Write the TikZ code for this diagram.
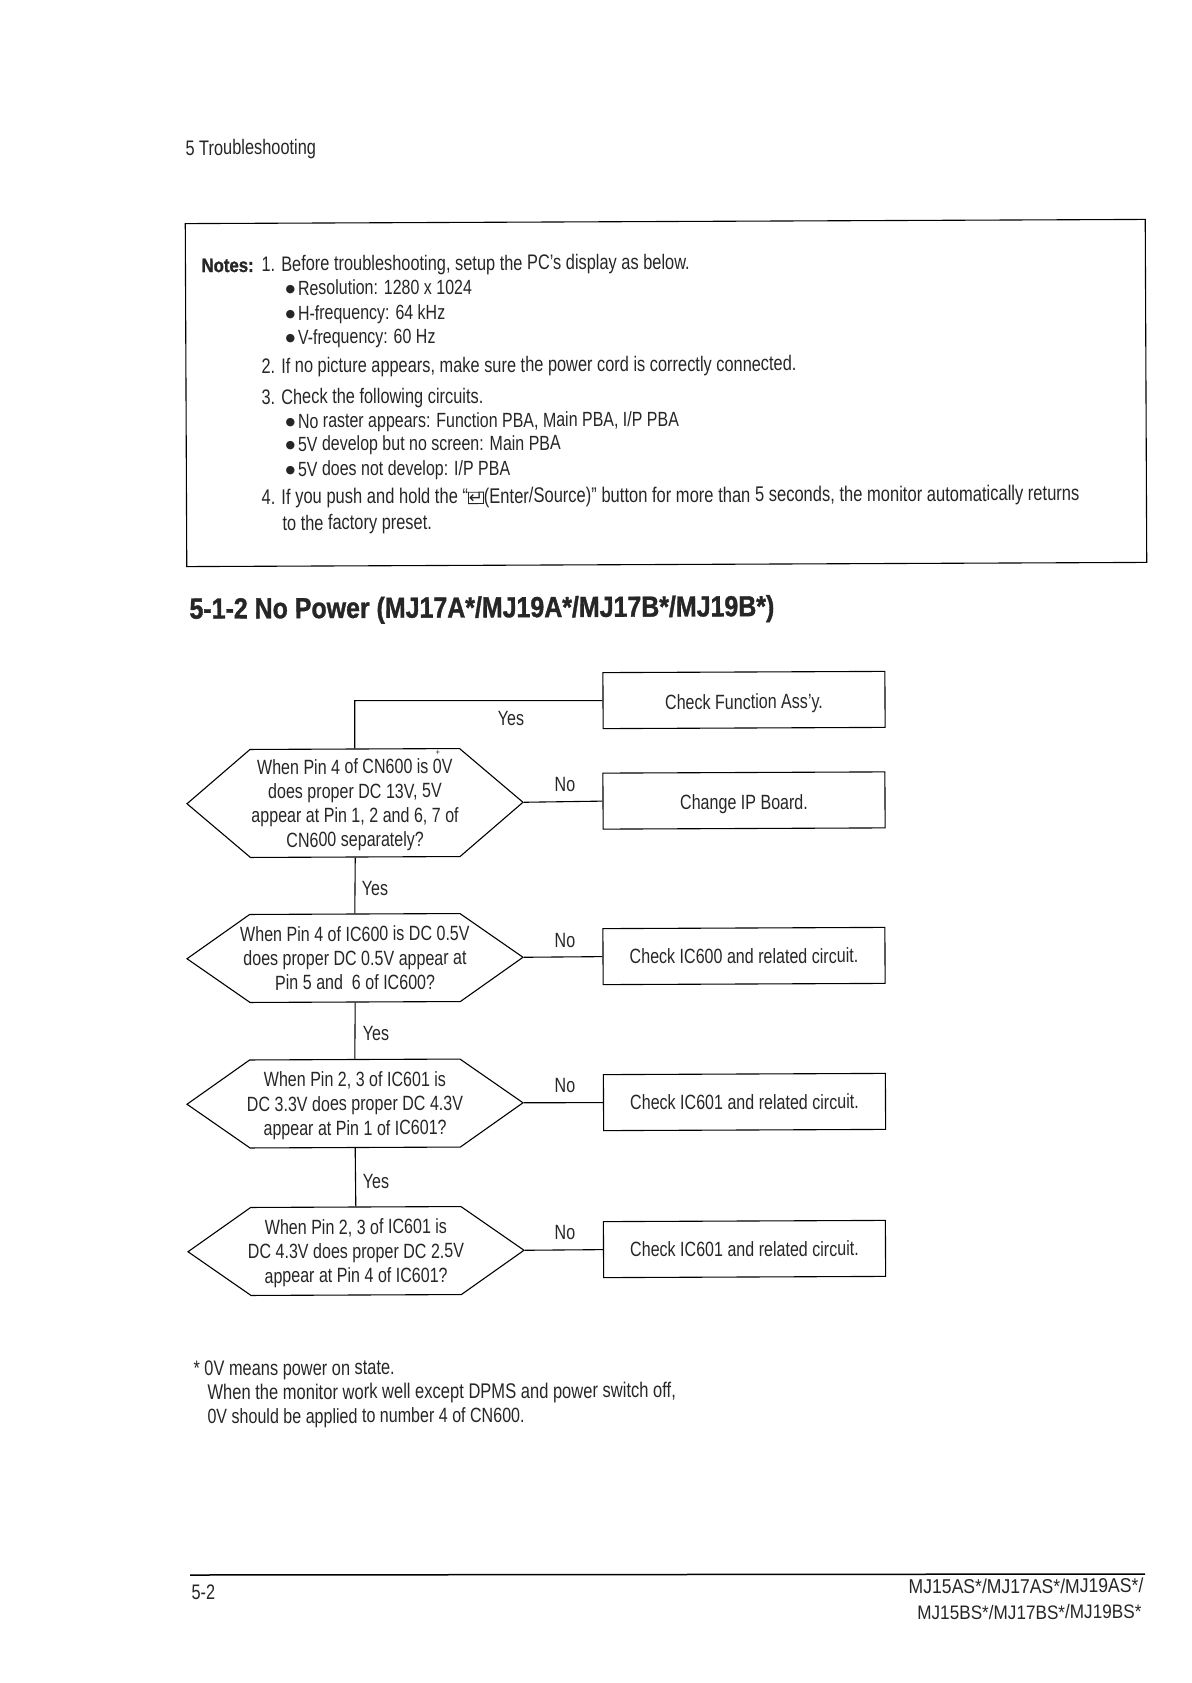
\documentclass[tikz,border=0pt]{standalone}
\usepackage{fontspec}
\setmainfont[FakeStretch=0.78]{Liberation Sans}
\newfontfamily\symfont{DejaVu Sans}
\newfontfamily\headfont[FakeStretch=0.86,BoldFeatures={FakeBold=1.2}]{Liberation Sans}
\newfontfamily\footfont[FakeStretch=0.88]{Liberation Sans}
\newcommand{\notebullet}{\makebox[12.5pt][l]{\raisebox{2.5pt}{\symfont\fontsize{11}{11}\selectfont ●}}}
\newcommand{\lowstrut}{\rule{0pt}{19pt}}
\usepackage{tikz}
\usetikzlibrary{shapes.symbols}
\usetikzlibrary{positioning}

\begin{document}
\begin{tikzpicture}
[x=1pt,y=-1pt,line width=1.1pt,
every node/.style={rotate=0.25,inner sep=0pt,font=\fontsize{20.6}{24.3}\selectfont,text=black!85},
line/.style={anchor=mid west,font=\fontsize{21}{24.3}\selectfont},
subline/.style={line,font=\fontsize{20.5}{24.3}\selectfont},
endline/.style={anchor=mid east,font=\footfont\fontsize{20}{24}\selectfont},
label/.style={anchor=mid},
hexa/.style={draw,signal,signal to=east and west,inner xsep=-40pt,minimum width=336pt,minimum height=88pt,signal pointer angle=70,align=center},
bigbox/.style={draw,rectangle,minimum width=282pt,minimum height=56pt},
lowtext/.style={text height=18pt,text depth=0pt}]
\useasboundingbox (0,0) rectangle (1191,1683);
\fill[white] (0,0) rectangle (1191,1683);
\node (header) at (185,152.5) [line] {5 Troubleshooting};
% notes
\node (notebox) at (666,393) [draw,rectangle,minimum width=960pt,minimum height=343pt] {};
\node (notes) at (201,269.5) [line,font=\headfont\fontsize{19.5}{24}\selectfont\bfseries] {Notes:};
\node (noteA) at (261,268.5) [line] {1. Before troubleshooting, setup the PC's display as below.};
\node (resol) at (285,292.5) [subline] {\notebullet Resolution: 1280 x 1024};
\node (hfreq) at (285,317.5) [subline] {\notebullet H-frequency: 64 kHz};
\node (vfreq) at (285,341.5) [subline] {\notebullet V-frequency: 60 Hz};
\node (noteB) at (261,370.5) [line] {2. If no picture appears, make sure the power cord is correctly connected.};
\node (noteC) at (261,401.5) [line] {3. Check the following circuits.};
\node (raster) at (285,425.5) [subline] {\notebullet No raster appears: Function PBA, Main PBA, I/P PBA};
\node (devel) at (285,448.5) [subline] {\notebullet 5V develop but no screen: Main PBA};
\node (nodevel) at (285,473.5) [subline] {\notebullet 5V does not develop: I/P PBA};
\node (noteD) at (261,501.5) [line,font=\fontsize{21.2}{24.3}\selectfont] {4. If you push and hold the ``{\setlength{\fboxsep}{0pt}\setlength{\fboxrule}{0.8pt}\fbox{\symfont\fontsize{17}{17}\selectfont ↵}}(Enter/Source)'' button for more than 5 seconds, the monitor automatically returns};
\node (noteE) at (282,527.5) [line] {to the factory preset.};
\node (title) at (189,616) [line,font=\headfont\fontsize{29}{34}\selectfont\bfseries] {5-1-2 No Power (MJ17A*/MJ19A*/MJ17B*/MJ19B*)};
% right column
\node (funcBox) at (744,700) [bigbox,lowtext] {Check Function Ass'y.};
\node (ipBox) at (744,800.5) [bigbox,lowtext] {Change IP Board.};
\node (icAbox) at (744,956) [bigbox] {Check IC600 and related circuit.};
\node (icBbox) at (744.5,1102) [bigbox] {Check IC601 and related circuit.};
\node (icCbox) at (744.5,1249) [bigbox] {Check IC601 and related circuit.};
% decisions
\node (cnHex) at (355,803) [hexa,minimum height=108pt,signal pointer angle=81] {\lowstrut When Pin 4 of CN600 is 0V\\does proper DC 13V, 5V\\appear at Pin 1, 2 and 6, 7 of\\CN600 separately?};
\node (plusMark) at (438,753) [label,font=\fontsize{9}{9}\selectfont] {+};
\node (icAhex) at (355,958) [hexa] {When Pin 4 of IC600 is DC 0.5V\\does proper DC 0.5V appear at\\Pin 5 and\ \ 6 of IC600?};
\node (icBhex) at (355,1103.5) [hexa] {\lowstrut When Pin 2, 3 of IC601 is\\DC 3.3V does proper DC 4.3V\\appear at Pin 1 of IC601?};
\node (icChex) at (356,1251) [hexa] {\lowstrut When Pin 2, 3 of IC601 is\\DC 4.3V does proper DC 2.5V\\appear at Pin 4 of IC601?};
\path[draw] (cnHex.north) |- (funcBox.west)
	(cnHex.east) -- (ipBox.west)
	(cnHex.south) -- (icAhex.north)
	(icAhex.east) -- (icAbox.west)
	(icAhex.south) -- (icBhex.north)
	(icBhex.east) -- (icBbox.west)
	(icBhex.south) -- (icChex.north)
	(icChex.east) -- (icCbox.west);
\node (yesA) at (511,723) [label] {Yes};
\node (noA) at (565,789) [label] {No};
\node (yesB) at (375,893) [label] {Yes};
\node (noB) at (565,945) [label] {No};
\node (yesC) at (376,1038) [label] {Yes};
\node (noC) at (565,1090) [label] {No};
\node (yesD) at (376,1186) [label] {Yes};
\node (noD) at (565,1237) [label] {No};
% footnote
\node (starA) at (193,1373) [line] {* 0V means power on state.};
\node (starB) at (207,1397) [line,font=\fontsize{21.2}{24.3}\selectfont] {When the monitor work well except DPMS and power switch off,};
\node (starC) at (207,1421) [line,font=\fontsize{20.6}{24.3}\selectfont] {0V should be applied to number 4 of CN600.};
% footer
\coordinate (ruleL) at (190,1575);
\coordinate (ruleR) at (1145,1574);
\draw[line width=1.5pt] (ruleL) -- (ruleR);
\node (page) at (191,1597) [line] {5-2};
\node (modelA) at (1144,1590) [endline] {MJ15AS*/MJ17AS*/MJ19AS*/};
\node (modelB) at (1142,1616) [endline,font=\footfont\fontsize{19.5}{24}\selectfont] {MJ15BS*/MJ17BS*/MJ19BS*};
\end{tikzpicture}
\end{document}
